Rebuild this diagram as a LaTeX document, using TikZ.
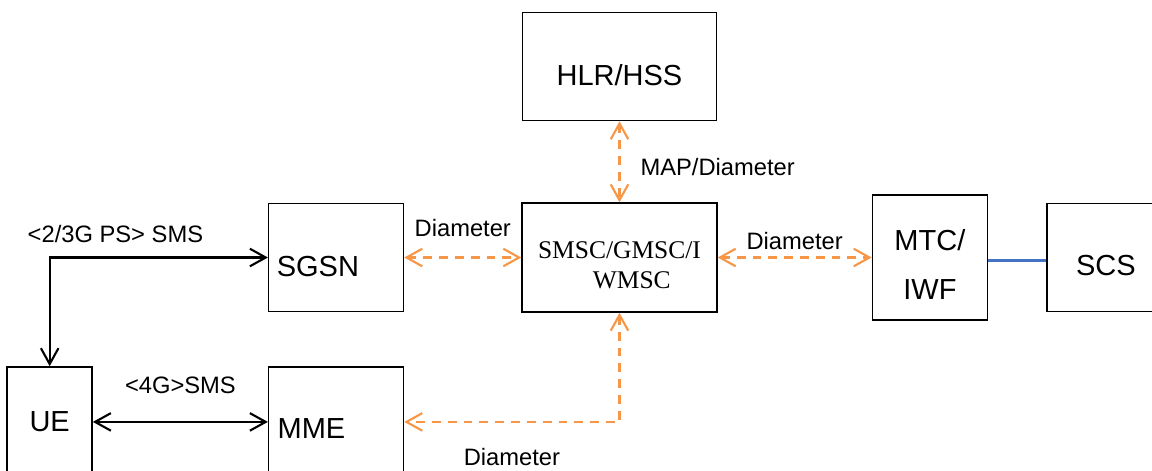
\documentclass[tikz,border=0pt]{standalone}
\usepackage{fontspec}
\setmainfont{Liberation Sans}
\newfontfamily\timesfont{Liberation Serif}
\usepackage{tikz}
\usetikzlibrary{arrows, arrows.meta, positioning}
\definecolor{dashorange}{RGB}{247,150,70}
\definecolor{lineblue}{RGB}{68,114,196}

\begin{document}
\begin{tikzpicture}[node distance=1cm,>={Straight Barb[length=9pt,width=10pt]},line width=1.2pt]
	
	
	\tikzset{node box/.style={rectangle, draw=black,
			line width=0.8pt,
			font=\fontsize{16.5}{20}\selectfont,
			minimum width=2.7cm, minimum height=2.16cm}}
	\tikzset{node lbl/.style={font=\fontsize{13.5}{16}\selectfont,
			inner sep=0pt, text depth=0pt}}
	\tikzset{link dash/.style={draw=dashorange,
			dash pattern=on 5pt off 4pt}}
	
	\useasboundingbox (-12.39,-4.25) rectangle (10.65,5.15);
	\clip (-12.39,-4.25) rectangle (10.65,5.15);
	
	\node[node box, minimum width=3.9cm, minimum height=2.18cm, align=center,
		font=\timesfont\fontsize{14.5}{17}\selectfont] (SMSC) at (0,0) {\rule{0pt}{18pt}SMSC/GMSC/I\\\hspace*{14pt}WMSC};
	\node[node box, minimum width=3.88cm, text height=21.6pt, text depth=0pt, above=1.62cm of SMSC] (HLR) {HLR/HSS};
	\node[node box, text width=67.5pt, inner xsep=4.5pt, align=left, text height=21.6pt, text depth=0pt, left=2.34cm of SMSC] (SGSN) {SGSN};
	\node[node box, minimum height=2.2cm, text width=66.5pt, inner xsep=5pt, align=left, text height=19.3pt, text depth=0pt, below=1.08cm of SGSN] (MME) {MME};
	\node[node box, minimum width=1.7cm, minimum height=2.2cm, left=3.5cm of MME] (UE) {UE};
	\node[node box, minimum width=2.3cm, minimum height=2.5cm, align=center,
		font=\fontsize{16.5}{28}\selectfont, right=3.08cm of SMSC] (MTC) {\rule{0pt}{20pt}MTC/\\IWF};
	\node[node box, minimum width=2.36cm, text height=20.4pt, text depth=0pt, right=1.16cm of MTC] (SCS) {SCS};
	
	% Diameter links
	\draw[link dash, <->] (HLR) -- node[node lbl, right=0.4cm, yshift=-0.1cm] {MAP/Diameter} (SMSC);
	\draw[link dash, <->] (SGSN) -- node[node lbl, above=0.4cm] {Diameter} (SMSC);
	\draw[link dash, <->] (SMSC.east) -- node[node lbl, above=0.14cm] {Diameter} (SMSC.east -| MTC.west);
	\draw[link dash, <->] (SMSC) |- node[node lbl, pos=0.75, below=0.5cm] {Diameter} (MME);
	
	% SMS paths
	\draw[<->] (UE) |- node[node lbl, pos=0.5, anchor=south west, xshift=-0.46cm, yshift=0.28cm] {<2/3G PS> SMS} (SGSN);
	\draw[<->] (UE) -- node[node lbl, above=0.54cm] {<4G>SMS} (MME);
	
	\draw[draw=lineblue] ([yshift=-0.06cm]MTC.east) -- ([yshift=-0.06cm]MTC.east -| SCS.west);
\end{tikzpicture}
\end{document}
